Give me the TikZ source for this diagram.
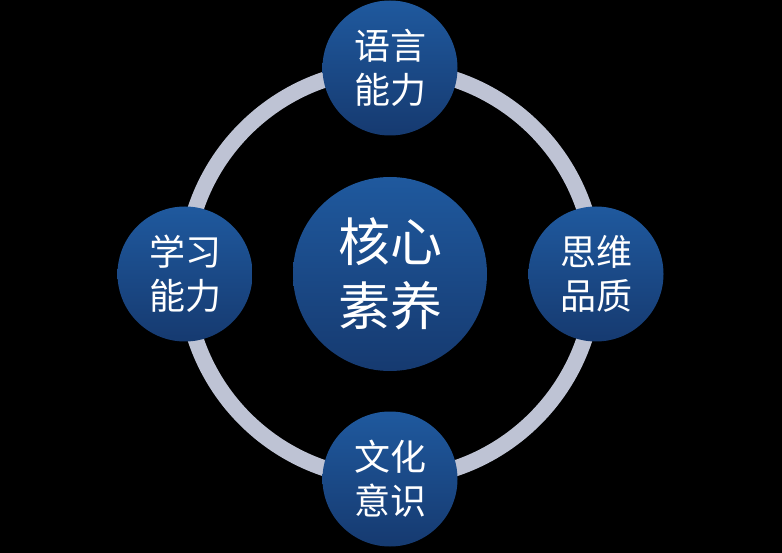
\documentclass[tikz,border=0pt]{standalone}
\usepackage{fontspec}
\newfontfamily\cjk{Noto Sans CJK SC}
\usetikzlibrary{positioning}

\definecolor{bluetop}{RGB}{31,89,158}
\definecolor{bluebottom}{RGB}{22,58,112}
\definecolor{ringlight}{RGB}{190,195,212}
\definecolor{ringmid}{RGB}{150,154,174}

\tikzset{
  topic/.style={circle, inner sep=0pt, minimum size=135pt, top color=bluetop,
    bottom color=bluebottom, text=white, align=center,
    font=\cjk\fontsize{36}{44}\selectfont},
  core/.style={topic, minimum size=194pt, font=\cjk\fontsize{52}{64}\selectfont},
}

\begin{document}
\begin{tikzpicture}[x=1pt,y=-1pt,node distance=205pt,on grid]

    \fill[black] (0,0) rectangle (782,553);

    \node[core]  (hexin) at (390,274) {核心\\素养};
    \coordinate  (ring) at (hexin.center);

    % ring behind the topics
    \shade[even odd rule, top color=ringlight, middle color=ringmid, bottom color=ringlight]
    (ring) circle (213pt) (ring) circle (197pt);

    \node[topic] (yuyan) [above=206pt of hexin] {语言\\能力};
    \node[topic] (siwei) [right=206pt of hexin] {思维\\品质};
    \node[topic] (wenhua) [below=205pt of hexin] {文化\\意识};
    \node[topic] (xuexi) [left=205pt of hexin] {学习\\能力};

  \end{tikzpicture}
\end{document}
